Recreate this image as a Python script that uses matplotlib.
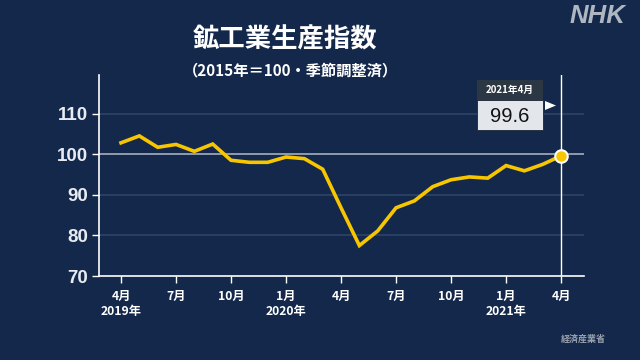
import matplotlib
matplotlib.use("Agg")
import matplotlib.pyplot as plt
from matplotlib.patches import Rectangle, Polygon

# 鉱工業生産指数 (2015年=100・季節調整済) 2019年4月〜2021年4月
meses = list(range(25))
valores = [102.8, 104.5, 101.7, 102.4, 100.7, 102.5, 98.5, 98.0, 98.0, 99.3,
           98.9, 96.3, 86.8, 77.5, 81.1, 86.8, 88.5, 92.0, 93.7, 94.4,
           94.1, 97.2, 95.9, 97.5, 99.6]
tick_pos = [0, 3, 6, 9, 12, 15, 18, 21, 24]
tick_labels = ["4月\n2019年", "7月", "10月", "1月\n2020年", "4月", "7月",
               "10月", "1月\n2021年", "4月"]
y_ticks = [70, 80, 90, 100, 110]
ultimo_label = "2021年4月"

bg = "#13284a"
cjk = ["Noto Sans CJK JP", "DejaVu Sans"]
plt.rcParams["font.family"] = cjk

fig = plt.figure(figsize=(6.4, 3.6), dpi=100, facecolor=bg)
ax = fig.add_axes([99 / 640, 1 - 276 / 360, (584 - 99) / 640, (276 - 75) / 360])
ax.set_facecolor(bg)

# linhas de grade
for y in y_ticks[1:]:
    if y == 100:
        ax.axhline(y, color="#9aa4b4", lw=1.3, zorder=2)
    else:
        ax.axhline(y, color="#2e4466", lw=1.2, zorder=1)

ax.axvline(meses[-1], color="white", lw=1.0, zorder=2)

ax.plot(meses, valores, color="#f7c600", lw=2.6, zorder=3, solid_joinstyle="miter")
ax.plot(meses[-1], valores[-1], "o", ms=9, color="#f7c600", mec="white", mew=1.5, zorder=4)

ax.set_xlim(-1.2, 25.25)
ax.set_ylim(70, 119.5)
ax.set_yticks(y_ticks)
ax.set_yticklabels([str(v) for v in y_ticks], fontsize=13.5, fontweight="bold",
                   color="#e8ecf2", family="Liberation Sans")
ax.set_xticks(tick_pos)
ax.set_xticklabels(tick_labels, fontsize=8.8, fontweight="bold", color="white",
                   linespacing=1.25)
ax.tick_params(axis="y", colors="white", length=5, width=1, pad=3)
ax.tick_params(axis="x", colors="white", length=5, width=1, pad=5)
for lbl in ax.get_yticklabels():
    lbl.set_color("#e8ecf2")

for s in ["top", "right"]:
    ax.spines[s].set_visible(False)
for s in ["left", "bottom"]:
    ax.spines[s].set_color("white")
    ax.spines[s].set_linewidth(1.2)

# títulos
fig.text(285 / 640, 1 - 40 / 360, "鉱工業生産指数", fontsize=19, fontweight="bold",
         color="white", ha="center", va="center")
fig.text(290 / 640, 1 - 70 / 360, "（2015年＝100・季節調整済）", fontsize=11,
         fontweight="bold", color="white", ha="center", va="center")

# caixa do último valor
def px(x, y):
    return x / 640, 1 - y / 360

fig.patches.append(Rectangle(px(477, 100), 66 / 640, 20 / 360, transform=fig.transFigure,
                             facecolor="#2b3844", edgecolor="none"))
fig.patches.append(Rectangle(px(477, 130), 66 / 640, 30 / 360, transform=fig.transFigure,
                             facecolor="#e3e7eb", edgecolor="#1a2533", lw=0.6))
fig.patches.append(Polygon([px(545, 101), px(545, 110), px(556, 105.5)], closed=True,
                           transform=fig.transFigure, facecolor="white", edgecolor="none"))
fig.text(*px(510, 90), ultimo_label, fontsize=7, fontweight="bold", color="white",
         ha="center", va="center")
fig.text(*px(510, 116), f"{valores[-1]}", fontsize=14.5, color="#111111",
         ha="center", va="center", family="Liberation Sans")

# logo e fonte
fig.text(*px(597, 16), "NHK", fontsize=18.5, fontweight="bold", style="italic",
         color="#aeb6c2", ha="center", va="center", family="Liberation Sans")
fig.text(*px(583, 339), "経済産業省", fontsize=6.5, fontweight="bold", color="#9aa2ae",
         ha="center", va="center")

fig.savefig("out.png", dpi=100, facecolor=bg)
